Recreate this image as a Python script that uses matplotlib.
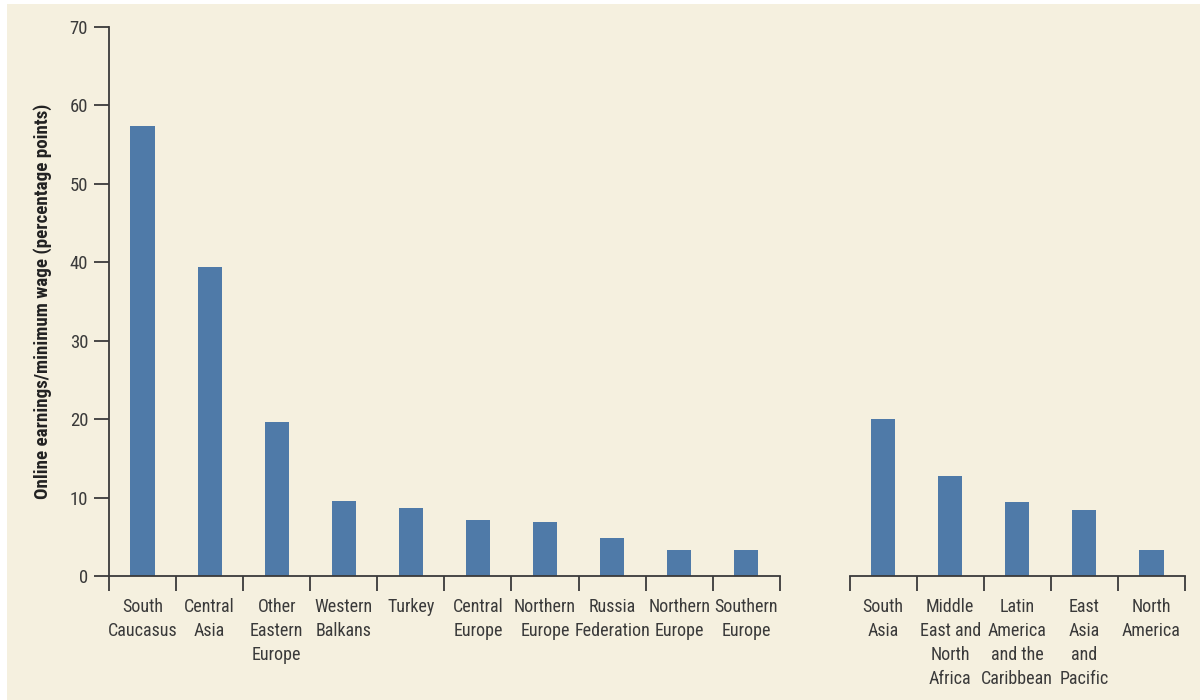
import matplotlib.pyplot as plt
from matplotlib.patches import Rectangle

# data
left_labels = ["South\nCaucasus", "Central\nAsia", "Other\nEastern\nEurope", "Western\nBalkans", "Turkey",
               "Central\nEurope", "Northern\nEurope", "Russia\nFederation", "Northern\nEurope", "Southern\nEurope"]
left_values = [57.4, 39.4, 19.6, 9.6, 8.7, 7.1, 6.9, 4.8, 3.3, 3.3]

right_labels = ["South\nAsia", "Middle\nEast and\nNorth\nAfrica", "Latin\nAmerica\nand the\nCaribbean",
                "East\nAsia\nand\nPacific", "North\nAmerica"]
right_values = [20.0, 12.8, 9.4, 8.4, 3.3]

bg = "#f5f0df"
bar_color = "#4f7aa8"
ink = "#3a3a3a"
plt.rcParams["font.family"] = ["Roboto Condensed", "DejaVu Sans"]

fig = plt.figure(figsize=(12, 7), dpi=100, facecolor="white")
fig.patches.append(Rectangle((7 / 1200, 0), 1, 1 - 4 / 700, transform=fig.transFigure,
                             facecolor=bg, edgecolor="none", zorder=-10))
ax = fig.add_axes([109 / 1200, 1 - 576 / 700, (1185 - 109) / 1200, (576 - 27) / 700])
ax.set_facecolor("none")

gap = 11.04
left_x = list(range(len(left_values)))
right_x = [gap + i for i in range(len(right_values))]

ax.bar(left_x, left_values, width=0.36, color=bar_color, zorder=2)
ax.bar(right_x, right_values, width=0.36, color=bar_color, zorder=2)

ax.set_xlim(-0.5, gap - 0.5 + len(right_values))
ax.set_ylim(0, 70)

for s in ["top", "right", "bottom"]:
    ax.spines[s].set_visible(False)
ax.spines["left"].set_color(ink)
ax.spines["left"].set_linewidth(1.3)

# baselines for the two groups
ax.plot([-0.5, len(left_values) - 0.5], [0, 0], color=ink, lw=1.3, clip_on=False, zorder=3)
ax.plot([gap - 0.5, gap - 0.5 + len(right_values)], [0, 0], color=ink, lw=1.3, clip_on=False, zorder=3)

ax.set_yticks(range(0, 71, 10))
ax.tick_params(axis="y", length=11, width=1.3, color=ink, labelsize=13.5, labelcolor=ink, pad=4)

ax.set_xticks(left_x + right_x)
ax.set_xticklabels(left_labels + right_labels, fontsize=13, color=ink, va="top", linespacing=1.42)
ax.tick_params(axis="x", length=0, pad=16)

bounds = [i - 0.5 for i in range(len(left_values) + 1)] + [gap - 0.5 + i for i in range(len(right_values) + 1)]
ax.set_xticks(bounds, minor=True)
ax.tick_params(axis="x", which="minor", length=11, width=1.3, color=ink)

ax.set_ylabel("Online earnings/minimum wage (percentage points)", fontsize=13.7, fontweight="bold",
              color="#222222", labelpad=13)

fig.savefig("out.png", dpi=100, facecolor=fig.get_facecolor())
